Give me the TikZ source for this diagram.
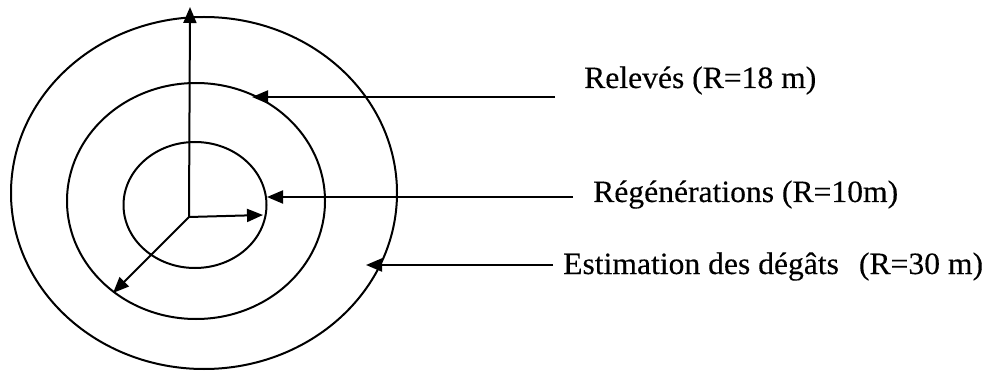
\documentclass[tikz,border=0pt]{standalone}
\usepackage{fontspec}
\setmainfont{Liberation Serif}[FakeStretch=1.02, FakeBold=0.3]
\usepackage{tikz}
\usetikzlibrary{shapes.geometric,arrows.meta}

\begin{document}
\begin{tikzpicture}[x=1pt, y=-1pt,
      ring/.style={ellipse, draw=black, line width=2pt, inner sep=0pt},
      arrow/.style={-{Triangle[length=16pt, width=13pt]}, line width=2pt},
      label/.style={anchor=base west, font=\fontsize{31}{37}\selectfont, inner sep=0pt},
    ]
      \useasboundingbox (0,0) rectangle (995,371);
      %% Sampling rings
      \node[ring, minimum width=386pt, minimum height=352pt] (outer)  at (204,193) {};
      \node[ring, minimum width=258pt, minimum height=236pt] (middle) at (196,201) {};
      \node[ring, minimum width=143pt, minimum height=126pt] (inner)  at (195,205) {};
      %% Radii from the plot centre
      \coordinate (o)     at (189,217);
      \coordinate (north) at (190,7);
      \coordinate (east)  at (263,215);
      \coordinate (sw)    at (113,293);
      \draw[arrow] (o) -- (north);
      \draw[arrow] (o) -- (east);
      \draw[arrow] (o) -- (sw);
      %% Labels
      \node[label] (rel) at (584,88)  {Relevés (R=18 m)};
      \node[label] (reg) at (593,202) {Régénérations (R=10m)};
      \node[label] (est) at (563,274) {Estimation des dégâts\hspace{20pt}(R=30 m)};
      %% Label leaders
      \coordinate (relS) at (555,97);
      \coordinate (regS) at (573,197);
      \coordinate (estS) at (553,265);
      \coordinate (relT) at (252,97);
      \coordinate (regT) at (267,197);
      \coordinate (estT) at (366,265);
      \draw[arrow] (relS) -- (relT);
      \draw[arrow] (regS) -- (regT);
      \draw[arrow] (estS) -- (estT);
\end{tikzpicture}
\end{document}
